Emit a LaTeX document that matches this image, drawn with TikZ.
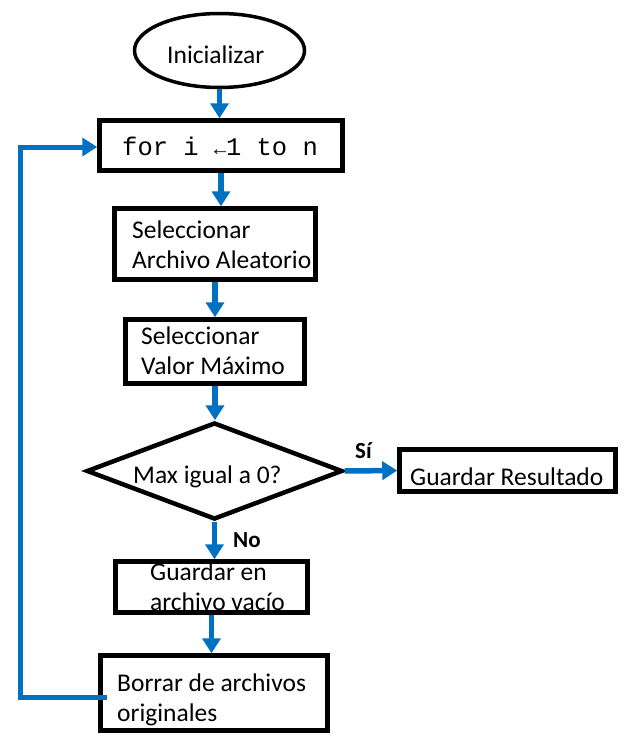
\documentclass[tikz,border=0pt]{standalone}
\usepackage{fontspec}
\setmainfont{Carlito}
\newfontfamily\monof{Liberation Mono}
\usetikzlibrary{arrows.meta,shapes.geometric,calc}
\definecolor{flowblue}{RGB}{0,112,192}
\tikzset{
  box/.style={draw=black,line width=4.5pt,rectangle,inner sep=0pt},
  txt/.style={inner sep=0pt,anchor=base west,align=left,font=\fontsize{25.5}{30}\selectfont},
  lbl/.style={inner sep=0pt,anchor=base west,font=\fontsize{23}{27}\selectfont\bfseries},
  flow/.style={draw=flowblue,line width=5.5pt,-{Triangle[length=15pt,width=18pt]}},
  loopline/.style={draw=flowblue,line width=5pt,-{Triangle[length=15pt,width=18pt]}}
}
\begin{document}
\begin{tikzpicture}[x=1pt,y=-1pt]
\useasboundingbox[fill=white] (0,0) rectangle (626,739);
% shapes
\node[draw=black,line width=3.5pt,ellipse,inner sep=0pt,minimum width=170pt,minimum height=74pt] (ell) at (219.5,50.5) {};
\node[box,minimum width=243pt,minimum height=50pt] (for) at (221,145.5) {};
\node[box,minimum width=201pt,minimum height=71pt] (b1) at (215,244) {};
\node[box,minimum width=179pt,minimum height=64pt] (b2) at (215,351.5) {};
\node[draw=black,line width=4.5pt,diamond,inner sep=0pt,minimum width=256pt,minimum height=97pt] (dm) at (214.5,471) {};
\node[box,minimum width=216pt,minimum height=42pt] (gr) at (507.5,470.5) {};
\node[box,minimum width=192pt,minimum height=51pt] (ge) at (211.5,587) {};
\node[box,minimum width=227pt,minimum height=75pt] (bo) at (214,693) {};
% texts
\node[txt] (tell) at (167,63) {Inicializar};
\node[inner sep=0pt,anchor=base west,font=\monof\fontsize{25.5}{30}\selectfont] (tfor) at (122,155) {for i {\fontsize{20}{24}\selectfont ←}1 to n};
\node[txt] (tb1) at (132,268) {Seleccionar\\Archivo Aleatorio};
\node[txt] (tb2) at (141,374) {Seleccionar\\Valor Máximo};
\node[txt] (tdm) at (133,483) {Max igual a 0?};
\node[txt] (tgr) at (410,485) {Guardar Resultado};
\node[txt] (tge) at (150,610) {Guardar en\\archivo vacío};
\node[txt] (tbo) at (117,721) {Borrar de archivos\\originales};
\node[lbl] (tsi) at (355,458) {Sí};
\node[lbl] (tno) at (233,547) {No};
% connectors
\draw[flow] (ell.south) -- (ell.south |- for.north);
\draw[flow] (for.south) -- (for.south |- b1.north);
\draw[flow] (b1.south) -- (b1.south |- b2.north);
\draw[flow] (b2.south) -- (b2.south |- dm.north);
\draw[flow] (dm.east) -- (gr.west);
\draw[flow] (dm.south) -- (dm.south |- ge.north);
\draw[flow] (ge.south) -- (ge.south |- bo.north);
\draw[loopline] ($(bo.west)+(9,4)$) -- ++(-87,0) |- ($(for.west)+(0,1.5)$);
\end{tikzpicture}
\end{document}
